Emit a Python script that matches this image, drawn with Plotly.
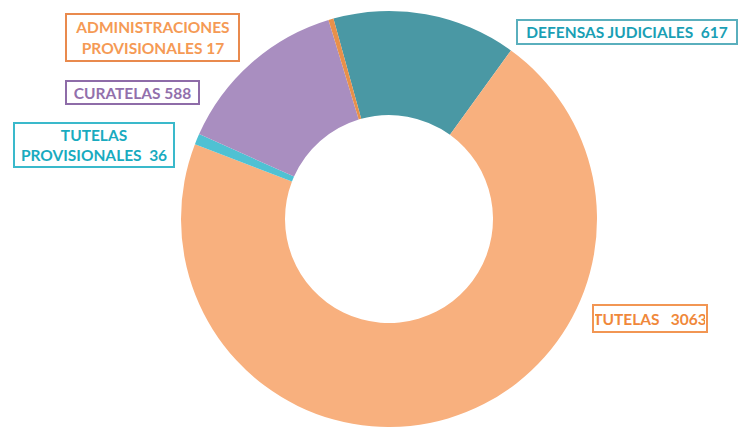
import plotly.graph_objects as go

W, H = 740, 427

categories = ["DEFENSAS JUDICIALES", "TUTELAS", "TUTELAS PROVISIONALES", "CURATELAS", "ADMINISTRACIONES PROVISIONALES"]
values = [617, 3063, 36, 588, 17]
slice_colors = ["#4A98A4", "#F8B07E", "#4FC1D3", "#A98EC0", "#E8904A"]

label_texts = [
    "DEFENSAS JUDICIALES  617",
    "TUTELAS   3063",
    "TUTELAS<br>PROVISIONALES  36",
    "CURATELAS 588",
    "ADMINISTRACIONES<br>PROVISIONALES 17",
]
label_font_colors = ["#1A9FB5", "#F0883A", "#19ABBF", "#9270AC", "#F59A55"]
label_border_colors = ["#5AAFBD", "#F29653", "#3AB9CB", "#8E6CA8", "#E98A4D"]
# box centres / sizes in pixels (layout only)
boxes = [(627, 32, 222, 26), (650, 318.5, 116, 29), (94, 145, 162, 46), (132.5, 92.5, 135, 25), (152.5, 37.5, 175, 49)]

cx, cy, r = 389, 219, 208
fig = go.Figure(go.Pie(
    labels=categories, values=values, hole=0.5, sort=False,
    direction="clockwise", rotation=-15.5,
    marker=dict(colors=slice_colors, line=dict(width=0)),
    textinfo="none", hoverinfo="label+value", showlegend=False,
    domain=dict(x=[(cx - r) / W, (cx + r) / W], y=[max(0, (H - (cy + r)) / H), (H - (cy - r)) / H]),
))

for txt, fc, bc, (bx, by, bw, bh) in zip(label_texts, label_font_colors, label_border_colors, boxes):
    fig.add_annotation(
        x=bx / W, y=1 - by / H, xref="paper", yref="paper", xanchor="center", yanchor="middle",
        text=txt, showarrow=False, align="center",
        font=dict(family="Lato", size=15.5, color=fc, weight="bold"),
        bordercolor=bc, borderwidth=2, borderpad=1, bgcolor="white",
        width=bw - 6, height=bh - 6,
    )

fig.update_layout(width=W, height=H, margin=dict(l=0, r=0, t=0, b=0),
                  paper_bgcolor="white", plot_bgcolor="white")
fig.write_html("out.html", config={"displayModeBar": False},
               post_script="document.body.style.margin='0';document.body.style.overflow='hidden';")
